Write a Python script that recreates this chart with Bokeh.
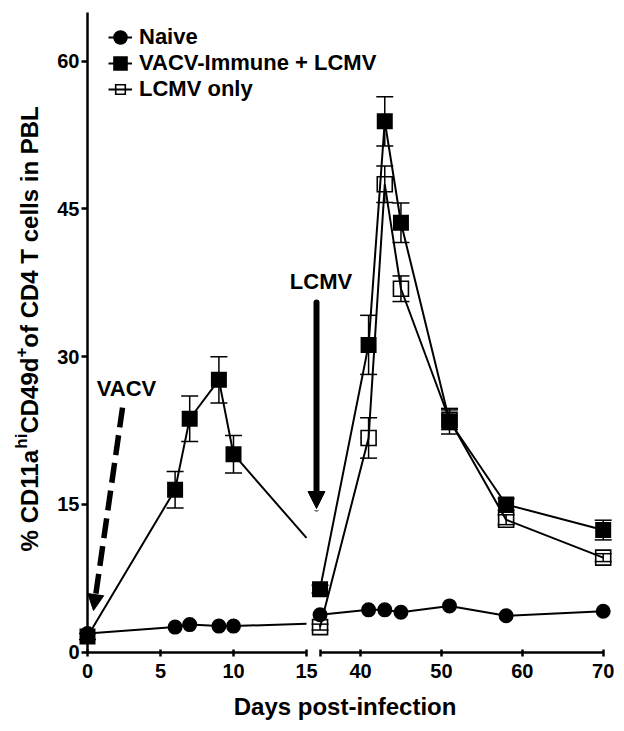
import math
from bokeh.plotting import figure
from bokeh.models import (Range1d, LinearAxis, FixedTicker, Whisker, TeeHead, Arrow,
                          NormalHead, Label, Legend, LegendItem, ColumnDataSource)
from bokeh.embed import file_html
from bokeh.resources import INLINE

# ---------------- data ----------------
early_days = [0, 6, 7, 9, 10]
late_days = [35, 41, 43, 45, 51, 58, 70]

naive_early = [1.9, 2.55, 2.8, 2.65, 2.65]
naive_late = [3.8, 4.3, 4.3, 4.05, 4.7, 3.7, 4.15]

vacv_early = [1.6, 16.5, 23.7, 27.65, 20.1]
vacv_early_err = [0.3, 1.85, 2.3, 2.35, 1.9]
vacv_late = [6.4, 31.2, 53.9, 43.6, 23.45, 15.0, 12.4]
vacv_late_err = [0.4, 3.0, 2.5, 2.0, 1.3, 0.6, 1.0]

lcmv_late = [2.55, 21.75, 47.5, 36.9, 23.6, 13.45, 9.6]
lcmv_late_err = [0.3, 2.05, 1.85, 1.3, 1.0, 0.5, 0.4]

# where the early-phase lines reach the axis break
break_day = 15
naive_break = 2.9
vacv_break = 11.6

early_ticks = [0, 5, 10, 15]
late_ticks = [40, 50, 60, 70]
late_minor = [35]
y_ticks = [0, 15, 30, 45, 60]

series_names = ["Naive", "VACV-Immune + LCMV", "LCMV only"]
x_title = "Days post-infection"
y_title_parts = [("% CD11a", False), ("hi", True), ("CD49d", False), ("+", True),
                 (" of CD4 T cells in PBL", False)]

# ---------------- layout / scales ----------------
W, H = 624, 731
EARLY_RANGE = (-5.959, 36.781)     # days 0..15 segment
LATE_RANGE = (-4.499, 72.633)      # days 35..70 segment
Y_RANGE = (-8.051, 66.162)
Y_PX = H / (Y_RANGE[1] - Y_RANGE[0])       # pixels per y unit
FONT = "Liberation Sans"

p = figure(width=W, height=H, output_backend="svg", toolbar_location=None,
           x_range=Range1d(*EARLY_RANGE), y_range=Range1d(*Y_RANGE),
           x_axis_location=None, y_axis_location=None, min_border=0)
p.title.visible = False
p.extra_x_ranges = {"late": Range1d(*LATE_RANGE)}
p.xgrid.visible = False
p.ygrid.visible = False
p.outline_line_color = None


def style_axis(ax, tick_in, tick_out, standoff):
    ax.axis_line_width = 2.5
    ax.axis_line_color = "black"
    for kind in ("major", "minor"):
        setattr(ax, f"{kind}_tick_line_width", 2.5)
        setattr(ax, f"{kind}_tick_line_color", "black")
        setattr(ax, f"{kind}_tick_in", tick_in)
        setattr(ax, f"{kind}_tick_out", tick_out)
    ax.major_label_standoff = standoff
    ax.major_label_text_font = FONT
    ax.major_label_text_font_style = "bold"
    ax.major_label_text_font_size = "20px"
    ax.major_label_text_color = "black"


ax_early = LinearAxis(bounds=(0, 15), ticker=FixedTicker(ticks=early_ticks), fixed_location=0)
style_axis(ax_early, 3, 4, 8)
p.add_layout(ax_early, "below")

ax_late = LinearAxis(x_range_name="late", bounds=(35, 70),
                     ticker=FixedTicker(ticks=late_ticks, minor_ticks=late_minor),
                     fixed_location=0)
style_axis(ax_late, 3, 4, 8)
p.add_layout(ax_late, "below")

ax_y = LinearAxis(bounds=(0, 64.94), ticker=FixedTicker(ticks=y_ticks), fixed_location=0)
style_axis(ax_y, 0, 6, 2)
p.add_layout(ax_y, "left")

# ---------------- error bars ----------------
def whisker(days, vals, errs, rng):
    src = ColumnDataSource(dict(x=days, upper=[v + e for v, e in zip(vals, errs)],
                                lower=[v - e for v, e in zip(vals, errs)]))
    w = Whisker(base="x", upper="upper", lower="lower", source=src, dimension="height",
                line_width=1.5, line_color="black",
                upper_head=TeeHead(size=17, line_width=1.5, line_color="black"),
                lower_head=TeeHead(size=17, line_width=1.5, line_color="black"))
    if rng:
        w.x_range_name = rng
    p.add_layout(w)


whisker(early_days, vacv_early, vacv_early_err, None)
whisker(late_days, vacv_late, vacv_late_err, "late")
whisker(late_days, lcmv_late, lcmv_late_err, "late")

# ---------------- lines ----------------
LW = 2
p.line(early_days + [break_day], naive_early + [naive_break], line_width=LW, color="black")
p.line(early_days + [break_day], vacv_early + [vacv_break], line_width=LW, color="black")
r_naive_line = p.line(late_days, naive_late, line_width=LW, color="black", x_range_name="late")
r_vacv_line = p.line(late_days, vacv_late, line_width=LW, color="black", x_range_name="late")
r_lcmv_line = p.line(late_days, lcmv_late, line_width=LW, color="black", x_range_name="late")

# ---------------- markers ----------------
circ = dict(marker="circle", size=10, fill_color="black", line_color="black", line_width=5)
sq = dict(marker="square", size=11, fill_color="black", line_color="black", line_width=5,
          line_join="miter")
r_lcmv_pts = p.scatter(late_days, lcmv_late, marker="square", size=15, fill_alpha=0,
                       line_color="black", line_width=1.6, line_join="miter",
                       x_range_name="late")
p.scatter(early_days, naive_early, **circ)
r_naive_pts = p.scatter(late_days, naive_late, x_range_name="late", **circ)
p.scatter(early_days, vacv_early, **sq)
r_vacv_pts = p.scatter(late_days, vacv_late, x_range_name="late", **sq)

# ---------------- infection arrows and labels ----------------
p.add_layout(Arrow(x_start=2.4, y_start=24.84, x_end=0.41, y_end=4.23,
                   line_width=5.5, line_color="black", line_dash="20 8",
                   end=NormalHead(size=16, fill_color="black", line_color="black",
                                  line_width=1)))
p.add_layout(Arrow(x_start=34.56, y_start=35.5, x_end=34.56, y_end=14.59,
                   x_range_name="late", line_width=6, line_color="black", line_cap="round",
                   end=NormalHead(size=17, fill_color="black", line_color="black",
                                  line_width=1)))
txt = dict(text_font=FONT, text_font_style="bold", text_color="black")
p.add_layout(Label(x=2.67, y=26.77, text="VACV", text_align="center", text_baseline="middle",
                   text_font_size="22px", **txt))
p.add_layout(Label(x=35.12, y=37.64, x_range_name="late", text="LCMV", text_align="center",
                   text_baseline="middle", text_font_size="22px", **txt))

# ---------------- legend ----------------
legend = Legend(items=[
    LegendItem(label=series_names[0], renderers=[r_naive_line, r_naive_pts]),
    LegendItem(label=series_names[1], renderers=[r_vacv_line, r_vacv_pts]),
    LegendItem(label=series_names[2], renderers=[r_lcmv_line, r_lcmv_pts]),
], location=(108, 629), glyph_width=24, glyph_height=24, spacing=0, label_standoff=7,
    label_height=24, padding=0, margin=0, border_line_color=None, background_fill_alpha=0,
    label_text_font=FONT, label_text_font_style="bold", label_text_font_size="22px",
    label_text_color="black")
p.add_layout(legend)

# ---------------- axis titles ----------------
p.add_layout(Label(x=17.64, y=-5.51, text=x_title, text_align="center",
                   text_baseline="middle", text_font_size="24px", **txt))

# Arial/Liberation Sans Bold advance widths (per 1000 em) for laying out the rotated title
ADV = {" ": 278, "%": 889, "+": 584, "1": 556, "4": 556, "9": 556, "B": 722, "C": 722,
       "D": 722, "L": 611, "P": 667, "T": 611, "a": 556, "c": 556, "d": 611, "e": 556,
       "f": 333, "h": 611, "i": 278, "l": 278, "n": 611, "o": 611, "s": 556}
MAIN, SUP = 24, 17
Y_TITLE_X, Y_TITLE_SUP_X = -3.973, -4.521   # baselines (early-day units)
Y_TITLE_CENTER = 33.17                       # centre of the title (y units)
widths = [sum(ADV.get(ch, 556) for ch in t) / 1000 * (SUP if sup else MAIN)
          for t, sup in y_title_parts]
pos_px = -sum(widths) / 2
for (t, sup), w in zip(y_title_parts, widths):
    p.add_layout(Label(x=Y_TITLE_SUP_X if sup else Y_TITLE_X,
                       y=Y_TITLE_CENTER + pos_px / Y_PX,
                       text=t, angle=math.pi / 2, text_align="left",
                       text_baseline="alphabetic",
                       text_font_size=f"{SUP if sup else MAIN}px", **txt))
    pos_px += w

open("out.html", "w").write(file_html(p, INLINE))
